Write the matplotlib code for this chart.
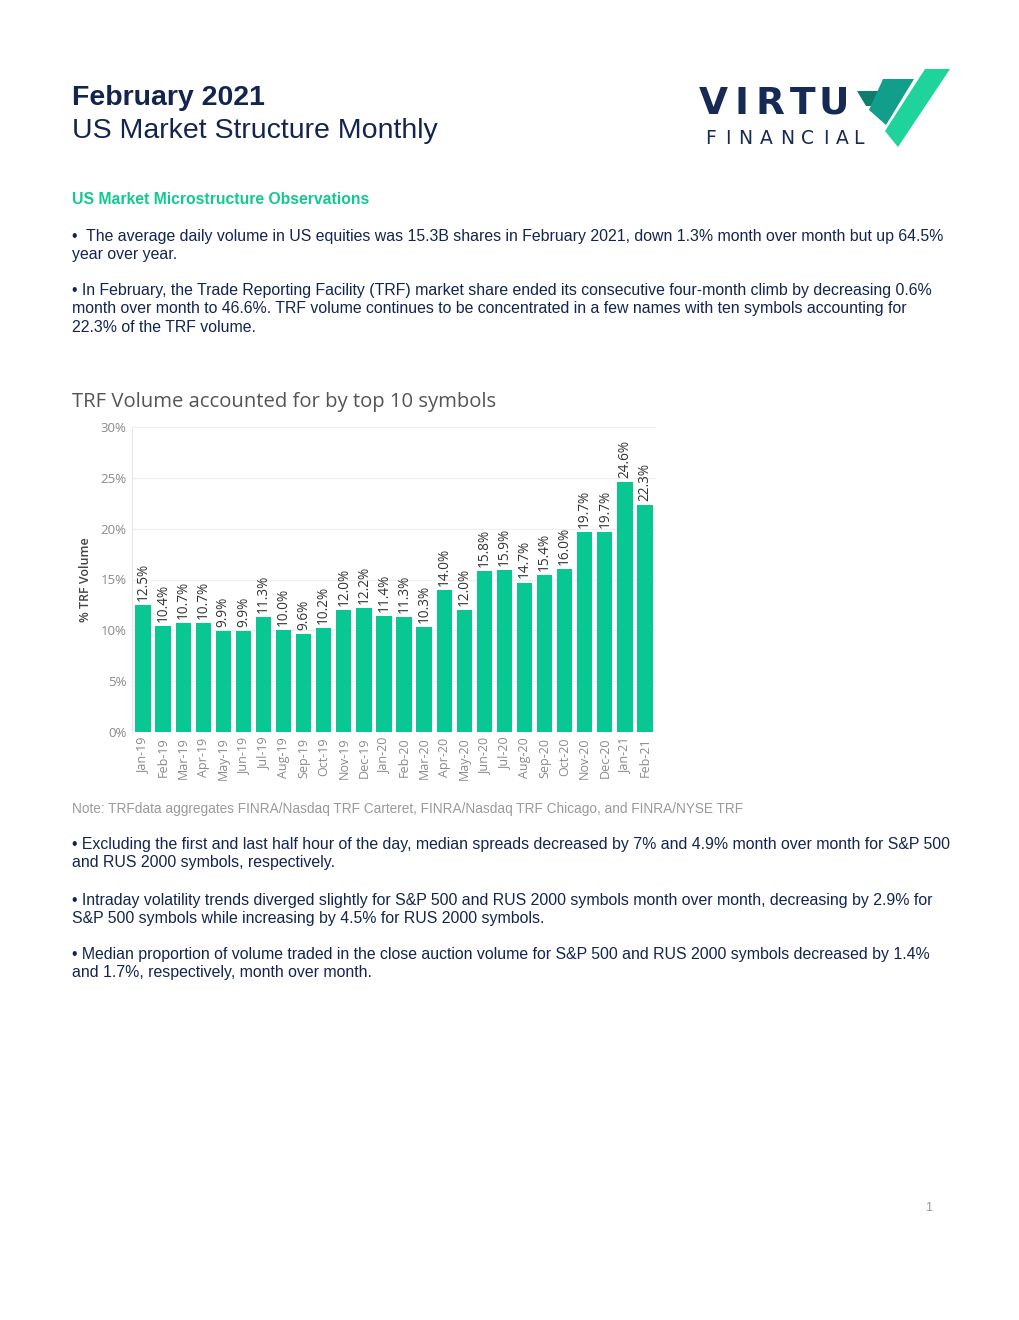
import matplotlib.pyplot as plt
from matplotlib.patches import Polygon

W, H = 1020, 1320

# chart data
months = ['Jan-19', 'Feb-19', 'Mar-19', 'Apr-19', 'May-19', 'Jun-19', 'Jul-19', 'Aug-19',
          'Sep-19', 'Oct-19', 'Nov-19', 'Dec-19', 'Jan-20', 'Feb-20', 'Mar-20', 'Apr-20',
          'May-20', 'Jun-20', 'Jul-20', 'Aug-20', 'Sep-20', 'Oct-20', 'Nov-20', 'Dec-20',
          'Jan-21', 'Feb-21']
trf_share = [12.5, 10.4, 10.7, 10.7, 9.9, 9.9, 11.3, 10.0, 9.6, 10.2, 12.0, 12.2, 11.4,
             11.3, 10.3, 14.0, 12.0, 15.8, 15.9, 14.7, 15.4, 16.0, 19.7, 19.7, 24.6, 22.3]
y_ticks = [0, 5, 10, 15, 20, 25, 30]

# page text
bullets_top = [
    ["•  The average daily volume in US equities was 15.3B shares in February 2021, down 1.3% month over month but up 64.5%",
     "year over year."],
    ["• In February, the Trade Reporting Facility (TRF) market share ended its consecutive four-month climb by decreasing 0.6%",
     "month over month to 46.6%. TRF volume continues to be concentrated in a few names with ten symbols accounting for",
     "22.3% of the TRF volume."],
]
bullets_bottom = [
    ["• Excluding the first and last half hour of the day, median spreads decreased by 7% and 4.9% month over month for S&P 500",
     "and RUS 2000 symbols, respectively."],
    ["• Intraday volatility trends diverged slightly for S&P 500 and RUS 2000 symbols month over month, decreasing by 2.9% for",
     "S&P 500 symbols while increasing by 4.5% for RUS 2000 symbols."],
    ["• Median proportion of volume traded in the close auction volume for S&P 500 and RUS 2000 symbols decreased by 1.4%",
     "and 1.7%, respectively, month over month."],
]
note = "Note: TRFdata aggregates FINRA/Nasdaq TRF Carteret, FINRA/Nasdaq TRF Chicago, and FINRA/NYSE TRF"

NAVY = '#13254f'
GREEN = '#08c793'
BODY = 'Liberation Sans'
BODY_SIZE = 11.45


def px(x, y):
    return x / W, 1 - y / H


fig = plt.figure(figsize=(W / 100, H / 100), dpi=100)

# header
fig.text(*px(72, 98), 'February 2021', fontsize=20.5, fontweight='bold', color=NAVY,
         family=BODY, va='center')
fig.text(*px(72, 131), 'US Market Structure Monthly', fontsize=20.5, color=NAVY,
         family=BODY, va='center')

# logo: letters placed one by one to get the wide spacing
for ch, cx in zip('VIRTU', [713.5, 742, 770, 803, 833.5]):
    fig.text(*px(cx, 104), ch, fontsize=27, fontweight='heavy', color='#172a55',
             family='DejaVu Sans', va='center', ha='center')
for ch, cx in zip('FINANCIAL', [711, 728, 745, 766, 787, 808, 826, 842, 858]):
    fig.text(*px(cx, 139), ch, fontsize=13.5, color='#172a55',
             family='DejaVu Sans', va='center', ha='center')
logo_parts = [
    ([(857, 91), (880, 91), (871, 106), (866, 106)], '#0f7d6e'),
    ([(883, 79), (914, 79), (886, 125), (869, 110)], '#119e8a'),
    ([(925, 69), (950, 69), (898, 147), (885, 131)], '#1ed39c'),
]
for pts, col in logo_parts:
    fig.patches.append(Polygon([px(x, y) for x, y in pts], closed=True, facecolor=col,
                               edgecolor='none', transform=fig.transFigure, figure=fig))

fig.text(*px(72, 200), 'US Market Microstructure Observations', fontsize=11.35, fontweight='bold',
         color='#12c98f', family=BODY, va='center')

y = 236
for para in bullets_top:
    for line in para:
        fig.text(*px(72, y), line, fontsize=BODY_SIZE, color=NAVY, family=BODY, va='center')
        y += 18
    y += 19

# chart
fig.text(*px(72, 402), 'TRF Volume accounted for by top 10 symbols', fontsize=14.6,
         color='#555555', family='Open Sans', va='center')

ax = fig.add_axes([132 / W, 1 - 732 / H, 524 / W, 305 / H])
x = range(len(months))
ax.bar(x, trf_share, width=0.76, color=GREEN, zorder=2)
for xi, v in zip(x, trf_share):
    ax.text(xi, v + 0.4, f'{v:.1f}%', rotation=90, ha='center', va='bottom',
            fontsize=9.8, color='#333333', family='Open Sans')
ax.set_xlim(-0.55, len(months) - 0.45)
ax.set_ylim(0, 30)
ax.set_yticks(y_ticks)
ax.set_yticklabels([f'{t}%' for t in y_ticks], fontsize=9.5, color='#8a8a8a', family='Open Sans')
ax.set_xticks(list(x))
ax.set_xticklabels(months, rotation=90, fontsize=9, color='#8a8a8a', family='Open Sans')
ax.tick_params(length=0, pad=4)
ax.grid(axis='y', color='#eeeeee', linewidth=0.8, zorder=0)
for side in ['top', 'right', 'bottom']:
    ax.spines[side].set_visible(False)
ax.spines['left'].set_color('#e6e6e6')
ax.set_ylabel('% TRF Volume', fontsize=9, color='#444444', fontweight='semibold',
              family='Open Sans', labelpad=6)

fig.text(*px(72, 809), note, fontsize=9.85, color='#9a9a9a', family=BODY, va='center')

y = 845
for para in bullets_bottom:
    for line in para:
        fig.text(*px(72, y), line, fontsize=BODY_SIZE, color=NAVY, family=BODY, va='center')
        y += 18
    y += 19

fig.text(*px(929, 1208), '1', fontsize=9, color='#999999', family=BODY, va='center', ha='center')

fig.savefig('out.png', dpi=100)
